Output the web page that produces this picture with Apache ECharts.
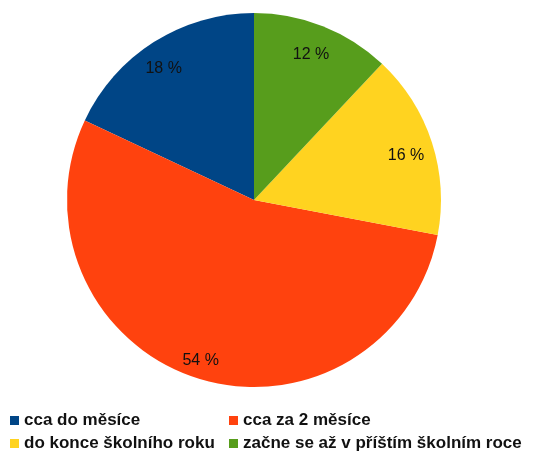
<!DOCTYPE html>
<html>
<head>
<meta charset="utf-8">
<script src="https://cdn.jsdelivr.net/npm/echarts@6/dist/echarts.min.js"></script>
<style>
  html, body { margin: 0; padding: 0; background: #fff; }
  #chart { width: 546px; height: 455px; }
</style>
</head>
<body>
<div id="chart"></div>
<script>
// categories and shares (%)
var categories = ["cca do měsíce", "cca za 2 měsíce", "do konce školního roku", "začne se až v příštím školním roce"];
var shares = [18, 54, 16, 12];
var colors = ["#004586", "#ff420e", "#ffd320", "#579d1c"];

var pieData = categories.map(function (name, i) {
  return { name: name, value: shares[i], itemStyle: { color: colors[i] } };
});
// same values, invisible ring, only used to place the labels near the rim
var labelData = categories.map(function (name, i) {
  return { name: name, value: shares[i] };
});

var myChart = echarts.init(document.getElementById("chart"));
myChart.setOption({
  animation: false,
  legend: {
    left: 10,
    top: 412,
    width: 536,
    padding: 0,
    icon: "rect",
    itemWidth: 9,
    itemHeight: 9,
    itemGap: 6,
    selectedMode: false,
    textStyle: {
      width: 199,
      fontFamily: "Liberation Sans",
      fontSize: 17,
      fontWeight: "bold",
      color: "#111",
      lineHeight: 17,
    },
  },
  series: [
    {
      type: "pie",
      center: [254, 200],
      radius: [0, 187],
      startAngle: 90,
      clockwise: false,
      silent: true,
      label: { show: false },
      labelLine: { show: false },
      data: pieData,
    },
    {
      type: "pie",
      center: [254, 200],
      radius: [133, 187],
      startAngle: 90,
      clockwise: false,
      silent: true,
      itemStyle: { color: "rgba(0,0,0,0)" },
      label: {
        show: true,
        position: "inside",
        formatter: "{c} %",
        offset: [-3, 6],
        fontFamily: "Liberation Sans",
        fontSize: 16,
        color: "#111",
      },
      labelLine: { show: false },
      data: labelData,
    },
  ],
});
</script>
</body>
</html>
